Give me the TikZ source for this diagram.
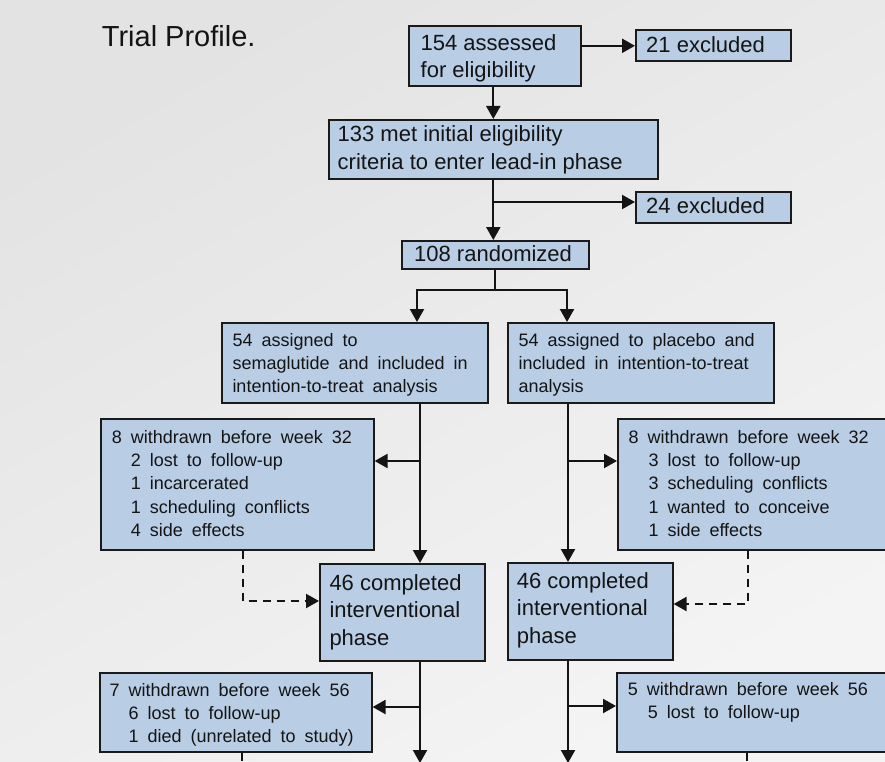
\documentclass[tikz,border=0pt]{standalone}
\usepackage{fontspec}
\setmainfont{Liberation Sans}
\newfontfamily\lowfont[WordSpace=1.8]{Liberation Sans}
\usetikzlibrary{arrows.meta}
\definecolor{boxblue}{HTML}{B9CDE5}
\definecolor{boxline}{HTML}{1A1A1A}
\definecolor{txt}{HTML}{141414}
\definecolor{bgA}{HTML}{E3E3E3}
\definecolor{bgB}{HTML}{F4F4F4}
\tikzset{
  box/.style={draw=boxline, fill=boxblue, line width=1.6pt, inner sep=0pt, anchor=north west},
  big/.style={font=\fontsize{22}{27.5}\selectfont, text=txt, inner sep=0pt, align=left, anchor=north west},
  small/.style={font=\lowfont\fontsize{18}{23.2}\selectfont, text=txt, inner sep=0pt, align=left, anchor=north west},
  arr/.style={line width=2.2pt, draw=txt, -{Triangle[length=13pt,width=14pt]}},
  dsh/.style={arr, dash pattern=on 8pt off 6pt},
}
\begin{document}
\begin{tikzpicture}[x=1pt,y=-1pt]
\useasboundingbox (0,0) rectangle (885,762);
\clip (0,0) rectangle (885,762);
\shade[top color=bgA, bottom color=bgB, shading angle=30] (0,0) rectangle (885,762);

\node[text=txt, font=\fontsize{29}{34}\selectfont, inner sep=0pt, anchor=base west] (title) at (101.7,46.7) {Trial Profile.};

% boxes
\node[box, minimum width=172pt, minimum height=60pt] (A) at (408,25) {};
\node[box, minimum width=155pt, minimum height=31pt] (X1) at (635,29.5) {};
\node[box, minimum width=329pt, minimum height=59pt] (B) at (328,119) {};
\node[box, minimum width=155pt, minimum height=31pt] (X2) at (635,191) {};
\node[box, minimum width=187pt, minimum height=28pt] (C) at (401,240) {};
\node[box, minimum width=266pt, minimum height=80pt] (D1) at (221,322) {};
\node[box, minimum width=266pt, minimum height=80pt] (D2) at (507,322) {};
\node[box, minimum width=273pt, minimum height=131pt] (E1) at (100,418) {};
\node[box, minimum width=280pt, minimum height=131pt] (E2) at (617,418) {};
\node[box, minimum width=165pt, minimum height=97pt] (G1) at (319,563) {};
\node[box, minimum width=165pt, minimum height=97pt] (G2) at (507,562) {};
\node[box, minimum width=272pt, minimum height=79pt] (I1) at (99,672) {};
\node[box, minimum width=280pt, minimum height=79pt] (I2) at (616,672) {};

% texts
\node[big] (tA) at (420.5,34) {154 assessed\\for eligibility};
\node[big, anchor=base west] (tX1) at (646,52.5) {21 excluded};
\node[big] (tB) at (337.5,125.5) {133 met initial eligibility\\criteria to enter lead-in phase};
\node[big, anchor=base west] (tX2) at (646,213.5) {24 excluded};
\node[big, anchor=base west] (tC) at (414,261.7) {108 randomized};
\node[small] (tD1) at (232.3,333) {54 assigned to\\semaglutide and included in\\intention-to-treat analysis};
\node[small] (tD2) at (518.3,333) {54 assigned to placebo and\\included in intention-to-treat\\analysis};
\node[small] (tE1) at (111.7,430.2) {8 withdrawn before week 32\\\hspace*{19pt}2 lost to follow-up\\\hspace*{19pt}1 incarcerated\\\hspace*{19pt}1 scheduling conflicts\\\hspace*{19pt}4 side effects};
\node[small] (tE2) at (628.3,430.2) {8 withdrawn before week 32\\\hspace*{20pt}3 lost to follow-up\\\hspace*{20pt}3 scheduling conflicts\\\hspace*{20pt}1 wanted to conceive\\\hspace*{20pt}1 side effects};
\node[big] (tG1) at (329.3,574) {46 completed\\interventional\\phase};
\node[big] (tG2) at (516.7,572.3) {46 completed\\interventional\\phase};
\node[small] (tI1) at (109.3,682.9) {7 withdrawn before week 56\\\hspace*{19pt}6 lost to follow-up\\\hspace*{19pt}1 died (unrelated to study)};
\node[small] (tI2) at (627.7,681.9) {5 withdrawn before week 56\\\hspace*{20pt}5 lost to follow-up};

% helper coordinates
\coordinate (br2) at (492.5,202);
\coordinate (sL) at (417,290);
\coordinate (sR) at (567,290);
\coordinate (eL) at (420,461);
\coordinate (eR) at (568,461);
\coordinate (dL) at (243,601);
\coordinate (dR) at (748,604);
\coordinate (iL) at (420,707);
\coordinate (iR) at (568,706);
\coordinate (bL) at (420,763);
\coordinate (bR) at (568,763);
\coordinate (tkL) at (242,780);
\coordinate (tkR) at (747,780);

% connectors
\draw[arr] (A.east |- X1.west) -- (X1.west);
\draw[arr] (A.south -| B.north) -- (B.north);
\draw[arr] (B.south) -- (B.south |- C.north);
\draw[arr] (br2) -- (br2 -| X2.west);
\draw[line width=2.2pt, draw=txt] (C.south) -- (C.south |- sL);
\draw[arr] (C.south |- sL) -- (sL) -- (sL |- D1.north);
\draw[arr] (C.south |- sR) -- (sR) -- (sR |- D2.north);
\draw[arr] (D1.south -| eL) -- (G1.north -| eL);
\draw[arr] (D2.south -| eR) -- (G2.north -| eR);
\draw[arr] (eL) -- (eL -| E1.east);
\draw[arr] (eR) -- (eR -| E2.west);
\draw[dsh] (E1.south -| dL) -- (dL) -- (dL -| G1.west);
\draw[dsh] (E2.south -| dR) -- (dR) -- (dR -| G2.east);
\draw[arr] (G1.south -| bL) -- (bL);
\draw[arr] (G2.south -| bR) -- (bR);
\draw[arr] (iL) -- (iL -| I1.east);
\draw[arr] (iR) -- (iR -| I2.west);
\draw[line width=2.2pt, draw=txt, dash pattern=on 8pt off 6pt] (I1.south -| tkL) -- (tkL);
\draw[line width=2.2pt, draw=txt, dash pattern=on 8pt off 6pt] (I2.south -| tkR) -- (tkR);
\end{tikzpicture}
\end{document}
